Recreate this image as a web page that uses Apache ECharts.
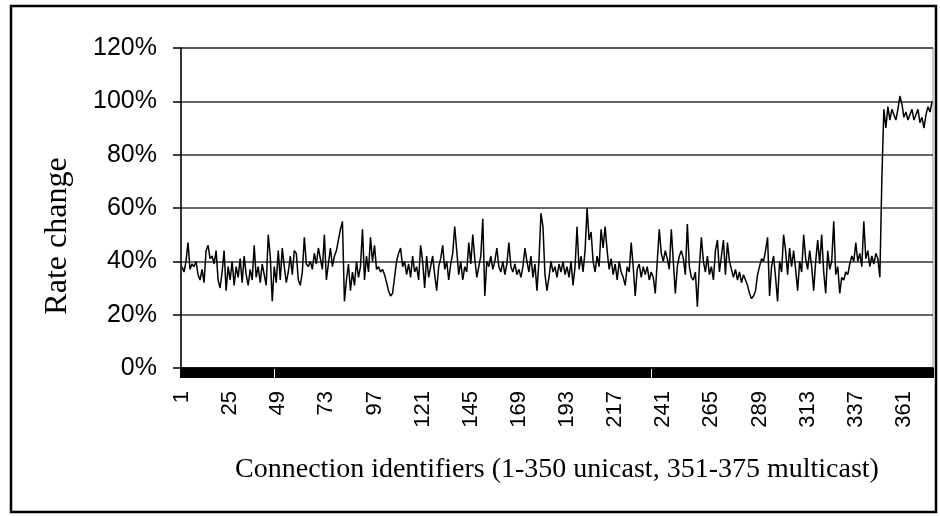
<!DOCTYPE html>
<html>
<head>
<meta charset="utf-8">
<script src="https://cdn.jsdelivr.net/npm/echarts@6/dist/echarts.min.js"></script>
<style>html,body{margin:0;padding:0;background:#fff}#c{width:940px;height:516px}</style>
</head>
<body>
<div id="c"></div>
<script>
// Rate change (%) per connection identifier
const unicastValues = [
38,36,40,47,37,39,38,40,35,33,37,32,44,46,41,42,39,44,33,30,36,44,29,38,33,
40,31,38,34,41,32,42,35,31,37,33,46,34,38,32,39,35,31,50,42,25,38,32,44,33,
45,38,32,36,42,35,44,43,33,31,36,49,39,38,40,37,43,39,45,41,37,50,33,39,45,
38,42,44,48,52,55,25,33,39,29,36,31,40,34,38,52,33,42,36,49,40,46,37,38,36,
37,35,32,29,27,28,34,40,43,45,38,40,35,39,34,42,36,38,33,46,40,30,42,34,38,
42,35,29,38,41,46,37,40,33,39,43,53,44,35,40,33,38,36,47,39,50,41,34,38,42,
56,27,40,38,42,37,40,45,38,36,40,35,39,47,38,36,39,35,37,34,38,45,40,36,42,
34,39,29,40,58,53,35,29,34,40,36,38,34,39,36,40,35,38,34,40,31,38,53,37,42,
36,44,60,48,51,40,36,42,38,52,45,53,44,37,41,35,39,33,40,36,34,31,38,36,47,
38,27,37,39,34,38,35,38,33,36,34,28,40,52,43,40,44,41,37,52,40,28,38,42,44,
41,35,54,38,34,33,36,23,38,49,40,36,42,35,38,33,44,48,36,42,48,35,47,40,37,
34,37,33,36,32,35,33,31,28,26,27,29,35,38,41,40,44,49,27,38,42,34,25,40,36,
50,44,35,45,38,44,37,29,40,36,50,41,37,44,38,29,40,48,39,50,36,28,44,37,40,
55,35,38,28,34,33,36,35,39,42,40,47,40,43,38,55,41,44,38,42,39,43,41,34,71
];
const multicastValues = [
97,90,98,93,97,95,93,97,102,99,94,96,93,95,97,93,95,97,92,94,90,95,98,96,100
];
const categories = [];
for (let i = 1; i <= unicastValues.length + multicastValues.length; i++) categories.push(String(i));
const yTicks = [0, 20, 40, 60, 80, 100, 120];
const seriesValues = unicastValues.concat(multicastValues);

const chart = echarts.init(document.getElementById('c'), null, {renderer: 'canvas'});
chart.setOption({
  animation: false,
  backgroundColor: '#fff',
  grid: {left: 181, right: 7, top: 48, bottom: 148, show: true, borderColor: '#999', borderWidth: 1, backgroundColor: 'transparent'},
  xAxis: {
    type: 'category',
    data: categories,
    boundaryGap: true,
    name: 'Connection identifiers (1-350 unicast, 351-375 multicast)',
    nameLocation: 'middle',
    nameGap: 88,
    nameTextStyle: {fontFamily: 'Liberation Serif', fontSize: 28, color: '#000'},
    axisLine: {show: true, lineStyle: {color: '#000', width: 1.5}},
    axisTick: {show: true, interval: 0, length: 10, lineStyle: {color: '#000', width: 2}},
    axisLabel: {interval: 23, rotate: 90, margin: 23, fontFamily: 'Liberation Sans', fontSize: 22, color: '#000'},
    splitLine: {show: false}
  },
  yAxis: {
    type: 'value',
    min: yTicks[0],
    max: yTicks[yTicks.length - 1],
    interval: 20,
    axisLine: {show: true, lineStyle: {color: '#000', width: 1.5}},
    axisTick: {show: true, length: 8, lineStyle: {color: '#000', width: 1.5}},
    axisLabel: {formatter: '{value}%', margin: 24, fontFamily: 'Liberation Sans', fontSize: 25, color: '#000'},
    splitLine: {show: true, lineStyle: {color: '#333', width: 1.5}}
  },
  graphic: [
    {type: 'rect', shape: {x: 11, y: 6, width: 925, height: 506}, style: {fill: 'none', stroke: '#000', lineWidth: 2.5}, silent: true},
    {type: 'text', x: 58, y: 236, rotation: Math.PI / 2,
     style: {text: 'Rate change', fontFamily: 'Liberation Serif', fontSize: 32, fill: '#000', textAlign: 'center', textVerticalAlign: 'middle'}}
  ],
  series: [{
    type: 'line',
    data: seriesValues,
    showSymbol: false,
    symbol: 'none',
    lineStyle: {color: '#000', width: 1.5},
    z: 3
  }]
});
</script>
</body>
</html>
